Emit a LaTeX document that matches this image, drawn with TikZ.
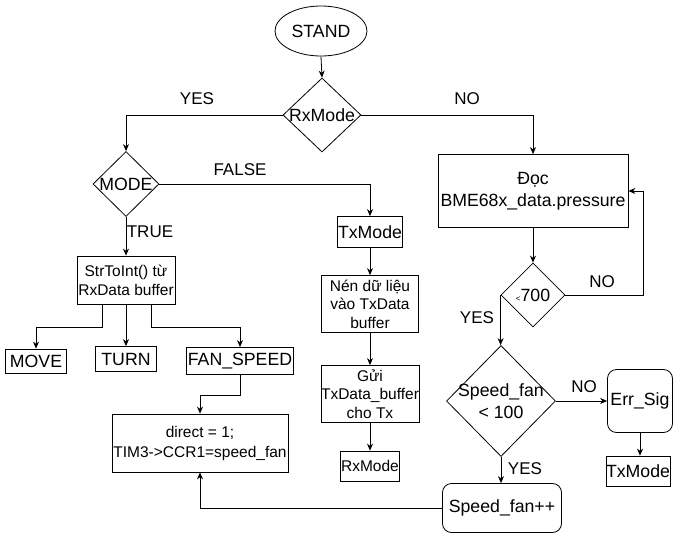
\documentclass[tikz,border=0pt]{standalone}
\usepackage{fontspec}
\setmainfont{Liberation Sans}
\usetikzlibrary{shapes.geometric,arrows.meta,calc}
\begin{document}
\begin{tikzpicture}[x=1pt,y=-1pt,
 base/.style={draw=black, line width=0.8pt, inner sep=0pt, align=center},
 boxn/.style={base, rectangle},
 rbox/.style={base, rectangle, rounded corners=9pt},
 diam/.style={base, diamond},
 big/.style={font=\fontsize{17.7}{22}\selectfont},
 small/.style={font=\fontsize{15.5}{19}\selectfont},
 lbl/.style={font=\fontsize{17}{20}\selectfont, inner sep=0pt},
 arr/.style={draw, line width=0.8pt, -{Stealth[length=7pt,width=6pt]}},
 conn/.style={draw, line width=0.8pt}]
\fill[white] (0,0) rectangle (673,536);
\useasboundingbox (0,0) rectangle (673,536);
% nodes
\node[base, ellipse, minimum width=92, minimum height=50, big] (stand) at (321,31) {STAND};
\node[diam, minimum width=78, minimum height=74] (rx) at (322,115) {};
\node[big, inner sep=0pt] (rxt) at (rx.center) {RxMode};
\node[diam, minimum width=66, minimum height=65] (mode) at (126,184) {};
\node[big, inner sep=0pt] (modet) at (mode.center) {MODE};
\node[boxn, minimum width=65, minimum height=31, big] (txm) at (370,232) {TxMode};
\node[boxn, minimum width=98, minimum height=48, small] (str) at (126,280) {StrToInt() từ\\RxData buffer};
\node[boxn, minimum width=61, minimum height=24, big] (move) at (36,361) {MOVE};
\node[boxn, minimum width=61, minimum height=25, big] (turn) at (126,359) {TURN};
\node[boxn, minimum width=107, minimum height=27, big] (fan) at (240,361) {FAN\_SPEED};
\node[boxn, minimum width=176, minimum height=58, font=\fontsize{15.5}{20}\selectfont] (dir) at (200,443) {direct = 1;\\TIM3->CCR1=speed\_fan};
\node[boxn, minimum width=97, minimum height=57, font=\fontsize{15.5}{18.5}\selectfont] (nen) at (370,304) {Nén dữ liệu\\vào TxData\\buffer};
\node[boxn, minimum width=97, minimum height=57, font=\fontsize{15.5}{18.5}\selectfont] (gui) at (370,394) {Gửi\\TxData\_buffer\\cho Tx};
\node[boxn, minimum width=59, minimum height=30, small] (rxm) at (370,466) {RxMode};
\node[boxn, minimum width=190, minimum height=73, big] (doc) at (533,191) {Đọc\\BME68x\_data.pressure};
\node[diam, minimum width=64, minimum height=64] (lt) at (533,295) {};
\node[inner sep=0pt] (ltt) at (lt.center) {{\fontsize{8}{8}\selectfont<}\fontsize{17.7}{22}\selectfont700};
\node[diam, minimum width=109, minimum height=111] (sf) at (501,401) {};
\node[big, inner sep=0pt, align=center] (sft) at (sf.center) {Speed\_fan\\< 100};
\node[rbox, minimum width=65, minimum height=63, big] (err) at (640,401) {Err\_Sig};
\node[boxn, minimum width=64, minimum height=30, big] (txr) at (638,471) {TxMode};
\node[rbox, minimum width=119, minimum height=49, big] (spp) at (502,508) {Speed\_fan++};
% labels
\node[lbl] (l1) at (197,99) {YES};
\node[lbl] (l2) at (467,99) {NO};
\node[lbl] (l3) at (240,170) {FALSE};
\node[lbl] (l4) at (150,232) {TRUE};
\node[lbl] (l5) at (602,282) {NO};
\node[lbl] (l6) at (477,318) {YES};
\node[lbl] (l7) at (584,387) {NO};
\node[lbl] (l8) at (525,469) {YES};
% junction levels
\coordinate (j1) at (0,327);
\coordinate (j2) at (0,395);
% connectors
\draw[arr] (stand.south) -- (rx.north);
\draw[arr] (rx.west) -| (mode.north);
\draw[arr] (rx.east) -| (doc.north);
\draw[arr] (mode.east) -| (txm.north);
\draw[arr] (mode.south) -- (str.north);
\draw[arr] ([xshift=-24]str.south) -- ([xshift=-24]str.south |- j1) -| (move.north);
\draw[arr] (str.south) -- (turn.north);
\draw[arr] ([xshift=25]str.south) -- ([xshift=25]str.south |- j1) -| (fan.north);
\draw[arr] (fan.south) -- (fan.south |- j2) -| (dir.north);
\draw[arr] (spp.west) -| (dir.south);
\draw[arr] (txm.south) -- (nen.north);
\draw[arr] (nen.south) -- (gui.north);
\draw[arr] (gui.south) -- (rxm.north);
\draw[arr] (doc.south) -- (lt.north);
\draw[arr] (lt.east) -- ++(78,0) |- (doc.east);
\draw[arr] (lt.west) -- (lt.west |- sf.north);
\draw[arr] (sf.east) -- (err.west);
\draw[arr] (err.south) -- (err.south |- txr.north);
\draw[arr] (sf.south) -- (sf.south |- spp.north);
\end{tikzpicture}
\end{document}
